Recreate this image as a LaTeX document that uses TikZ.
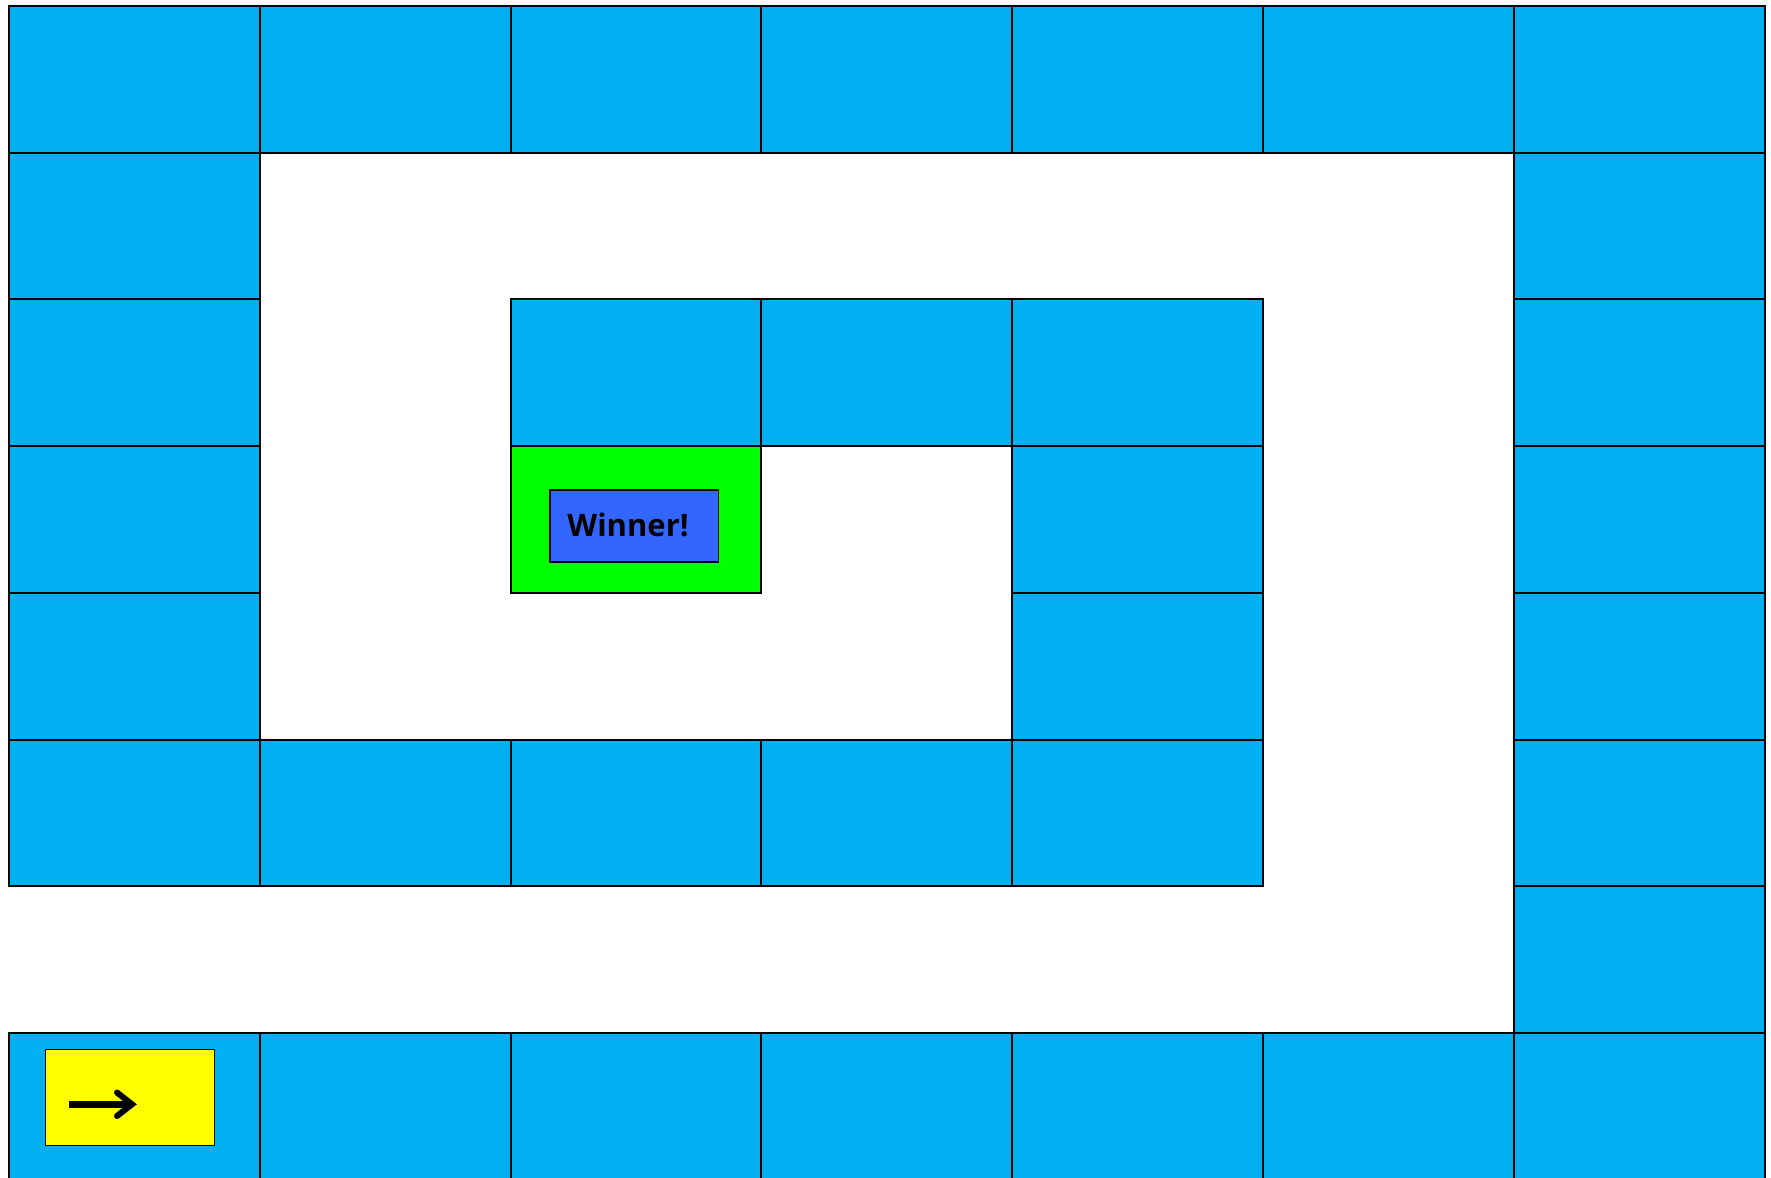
\documentclass[tikz,border=0pt]{standalone}
\usepackage{fontspec}
\setmainfont{Open Sans}
\definecolor{cellblue}{HTML}{00B0F0}
\definecolor{wingreen}{HTML}{00FF00}
\definecolor{winblue}{HTML}{3366FF}
\definecolor{startyellow}{HTML}{FFFF00}
\tikzset{
  cell/.style={draw=black, line width=2bp, fill=cellblue, minimum width=250.8bp, minimum height=146.7bp, inner sep=0pt, anchor=north west},
  wincell/.style={cell, fill=wingreen},
  label box/.style={draw=black, line width=1.6bp, inner sep=0pt}
}
\begin{document}
\begin{tikzpicture}[x=1bp,y=-1bp]
\useasboundingbox (0,0) rectangle (1771,1177);
\fill[white] (0,0) rectangle (1771,1177);
\def\X#1{8+250.8*#1}
\def\Y#1{5+146.7*#1}
% row 0 and row 7
\foreach \c in {0,...,6} {
  \node[cell] (t\c) at ({\X{\c}},{\Y{0}}) {};
  \node[cell] (b\c) at ({\X{\c}},{\Y{7}}) {};
}
% left column rows 1-5, right column rows 1-6
\foreach \r in {1,...,5} {\node[cell] (l\r) at ({\X{0}},{\Y{\r}}) {};}
\foreach \r in {1,...,6} {\node[cell] (r\r) at ({\X{6}},{\Y{\r}}) {};}
% row 5 cols 1-4
\foreach \c in {1,...,4} {\node[cell] (m\c) at ({\X{\c}},{\Y{5}}) {};}
% row 2 cols 2-4
\foreach \c in {2,...,4} {\node[cell] (i\c) at ({\X{\c}},{\Y{2}}) {};}
% col 4 rows 3-4
\node[cell] (k3) at ({\X{4}},{\Y{3}}) {};
\node[cell] (k4) at ({\X{4}},{\Y{4}}) {};
% winner cell
\node[wincell] (win) at ({\X{2}},{\Y{3}}) {};
\node[label box, fill=winblue, minimum width=168.3bp, minimum height=71.7bp] (winbox) at (634.2,525.9) {};
\node[anchor=base, inner sep=0pt, font=\fontsize{31bp}{31bp}\selectfont\bfseries] (wintext) at (628,536.7) {Winner!};
% start box
\node[label box, fill=startyellow, minimum width=168.6bp, minimum height=96bp] (start) at (130,1097.3) {};
\coordinate (a1) at (69,1104.3);
\coordinate (a2) at (130,1104.3);
\coordinate (h1) at (117,92.5+1000);
\coordinate (h2) at (132,1104.3);
\coordinate (h3) at (117,1116);
\draw[line width=7bp] (a1) -- (a2);
\draw[line width=6bp, line join=miter, line cap=round] (h1) -- (h2) -- (h3);
\end{tikzpicture}
\end{document}
